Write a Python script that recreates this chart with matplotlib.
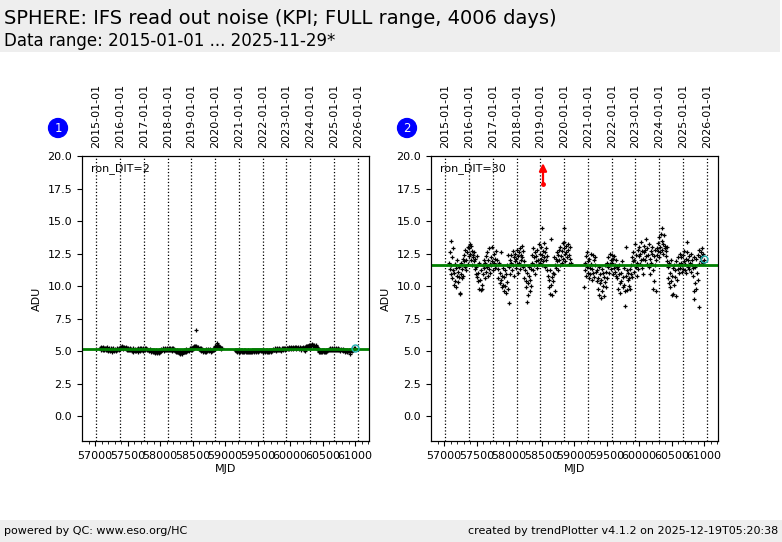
import matplotlib
matplotlib.use("Agg")
import matplotlib.pyplot as plt
from matplotlib.patches import Rectangle

# ---------------- data ----------------
mjd_1 = [
    57077, 57085, 57092, 57100, 57108, 57115, 57122, 57130, 57138, 57145,
    57153, 57160, 57168, 57175, 57183, 57190, 57198, 57205, 57213, 57220,
    57228, 57235, 57243, 57250, 57258, 57266, 57274, 57282, 57290, 57298,
    57306, 57314, 57322, 57330, 57338, 57346, 57354, 57362, 57370, 57378,
    57386, 57394, 57402, 57410, 57418, 57426, 57434, 57442, 57450, 57458,
    57466, 57474, 57482, 57490, 57498, 57506, 57514, 57522, 57530, 57538,
    57546, 57554, 57562, 57570, 57578, 57586, 57594, 57602, 57610, 57618,
    57626, 57634, 57642, 57650, 57658, 57666, 57674, 57682, 57690, 57698,
    57706, 57714, 57722, 57730, 57738, 57746, 57754, 57762, 57770, 57778,
    57786, 57794, 57802, 57810, 57830, 57838, 57846, 57854, 57862, 57870,
    57878, 57886, 57894, 57902, 57910, 57918, 57926, 57934, 57942, 57950,
    57958, 57966, 57974, 57982, 57990, 57998, 58006, 58014, 58022, 58030,
    58038, 58046, 58054, 58062, 58070, 58078, 58086, 58094, 58102, 58110,
    58118, 58126, 58134, 58142, 58150, 58158, 58166, 58174, 58182, 58190,
    58198, 58206, 58214, 58222, 58230, 58238, 58246, 58254, 58262, 58270,
    58278, 58286, 58294, 58302, 58310, 58318, 58326, 58334, 58342, 58350,
    58358, 58366, 58374, 58382, 58390, 58398, 58406, 58414, 58422, 58430,
    58438, 58446, 58454, 58462, 58470, 58478, 58486, 58494, 58502, 58510,
    58514, 58520, 58528, 58536, 58544, 58552, 58560, 58568, 58576, 58584,
    58592, 58600, 58608, 58616, 58624, 58632, 58640, 58648, 58656, 58664,
    58672, 58680, 58688, 58696, 58704, 58712, 58720, 58728, 58736, 58744,
    58752, 58760, 58768, 58776, 58784, 58792, 58800, 58808, 58816, 58824,
    58832, 58840, 58846, 58852, 58860, 58868, 58876, 58884, 58892, 58900,
    58908, 58916, 58924, 58932, 58940, 58948,
]
ron2_1 = [
    5.2, 5.3, 5.1, 5.25, 5.15, 5.2, 5.05, 5.3, 5.1, 5.2,
    5.15, 5.25, 5.05, 5.2, 5.1, 5.3, 5.0, 5.15, 5.2, 5.05,
    5.1, 5.0, 5.2, 5.05, 5.15, 4.95, 5.1, 5.2, 5.0, 5.1,
    5.05, 5.15, 5.0, 5.1, 5.2, 5.05, 5.15, 5.25, 5.1, 5.2,
    5.25, 5.3, 5.2, 5.35, 5.25, 5.3, 5.15, 5.3, 5.2, 5.25,
    5.2, 5.3, 5.15, 5.25, 5.1, 5.2, 5.05, 5.15, 5.1, 5.2,
    5.05, 5.15, 5.0, 5.1, 5.2, 4.95, 5.1, 5.05, 5.15, 5.0,
    5.1, 5.0, 5.15, 5.05, 5.2, 4.95, 5.1, 5.15, 5.0, 5.2,
    5.1, 5.2, 5.05, 5.15, 5.0, 5.2, 5.1, 5.25, 5.05, 5.15,
    5.2, 5.1, 5.15, 5.05, 5.1, 5.0, 5.15, 4.95, 5.05, 5.1,
    5.0, 4.9, 5.05, 4.95, 5.1, 4.85, 5.0, 4.9, 5.05, 4.85,
    4.95, 5.0, 4.9, 5.05, 4.85, 4.95, 5.1, 5.0, 5.15, 5.05,
    5.1, 5.2, 5.0, 5.15, 5.1, 5.2, 5.05, 5.15, 5.1, 5.2,
    5.15, 5.05, 5.2, 5.1, 5.25, 5.05, 5.15, 5.1, 5.2, 5.0,
    5.1, 5.2, 5.05, 5.15, 5.0, 5.1, 4.95, 5.05, 4.9, 5.0,
    4.9, 4.85, 4.95, 4.8, 5.0, 4.85, 4.9, 4.8, 5.0, 4.95,
    5.0, 4.9, 5.1, 4.95, 5.05, 5.15, 4.9, 5.0, 5.1, 5.05,
    5.1, 5.0, 5.15, 5.2, 5.05, 5.25, 5.1, 5.2, 5.3, 5.15,
    5.25, 5.35, 5.2, 5.4, 5.3, 6.6, 5.35, 5.2, 5.3, 5.25,
    5.3, 5.15, 5.25, 5.1, 5.2, 5.0, 5.15, 5.05, 4.95, 5.1,
    5.0, 5.1, 4.95, 5.05, 5.15, 4.95, 5.1, 5.0, 5.05, 5.15,
    5.0, 5.1, 5.05, 5.15, 4.95, 5.1, 5.0, 5.15, 5.05, 5.2,
    5.1, 5.25, 5.3, 5.4, 5.2, 5.35, 5.6, 5.3, 5.45, 5.25,
    5.35, 5.2, 5.3, 5.25, 5.15, 5.2,
]
ron30_1 = [
    11.8, 12.6, 11.3, 13.5, 10.9, 11.6, 12.2, 10.6, 11.2, 12.9,
    10.1, 11.0, 11.7, 10.4, 11.4, 9.9, 10.8, 12.0, 11.1, 10.3,
    10.7, 11.5, 9.5, 9.4, 10.9, 11.8, 10.6, 11.3, 12.1, 10.8,
    11.9, 12.4, 11.5, 12.8, 11.2, 12.0, 12.6, 13.0, 11.7, 12.3,
    12.9, 13.2, 12.5, 13.1, 12.0, 12.7, 11.6, 12.4, 12.2, 11.9,
    12.6, 11.3, 12.1, 10.9, 11.5, 10.7, 12.3, 11.0, 10.4, 11.8,
    9.8, 10.5, 9.7, 11.2, 10.1, 9.8, 11.6, 10.9, 12.0, 11.4,
    10.6, 11.8, 12.3, 11.1, 12.6, 11.5, 10.8, 12.0, 11.3, 12.9,
    11.7, 11.0, 12.2, 11.6, 13.0, 11.9, 11.2, 12.5, 11.8, 12.1,
    11.4, 12.7, 11.6, 12.0, 11.3, 10.6, 11.8, 10.2, 11.0, 10.5,
    12.6, 9.9, 10.8, 11.4, 10.1, 9.6, 10.7, 11.2, 10.0, 9.5,
    10.9, 11.6, 10.3, 12.4, 9.8, 8.7, 11.5, 12.0, 10.9, 11.8,
    12.4, 11.2, 12.7, 11.6, 12.2, 10.8, 11.9, 12.5, 11.4, 12.1,
    12.8, 11.7, 12.3, 11.0, 12.6, 11.8, 12.9, 11.3, 12.4, 12.0,
    13.1, 12.2, 11.5, 12.7, 11.9, 10.6, 11.2, 10.4, 9.9, 11.0,
    8.8, 10.2, 9.3, 10.8, 11.5, 9.6, 10.5, 11.3, 10.0, 11.8,
    12.4, 11.2, 12.9, 11.6, 12.2, 10.9, 12.6, 11.9, 12.3, 11.4,
    12.8, 12.0, 11.7, 13.2, 12.5, 11.8, 12.1, 13.0, 12.4, 11.6,
    14.5, 12.7, 11.9, 13.3, 12.2, 11.5, 12.6, 12.0, 12.9, 11.2,
    12.3, 10.8, 9.9, 10.5, 9.4, 11.2, 10.1, 13.6, 10.7, 9.3,
    11.0, 10.4, 12.2, 10.9, 11.6, 9.6, 12.1, 11.4, 12.6, 11.9,
    12.4, 11.2, 12.8, 12.0, 11.6, 13.0, 12.3, 11.8, 12.7, 13.3,
    12.1, 12.9, 14.5, 13.4, 12.5, 11.9, 13.1, 12.6, 12.2, 13.2,
    12.8, 11.7, 12.4, 13.0, 12.1, 11.8,
]

mjd_2 = [
    59154, 59162, 59170, 59178, 59186, 59194, 59202, 59210, 59218, 59226,
    59234, 59242, 59250, 59258, 59266, 59274, 59282, 59290, 59298, 59306,
    59314, 59322, 59330, 59338, 59346, 59354, 59362, 59370, 59378, 59386,
    59394, 59402, 59410, 59418, 59426, 59434, 59442, 59450, 59458, 59466,
    59474, 59482, 59490, 59498, 59506, 59514, 59522, 59530, 59538, 59546,
    59554, 59562, 59570, 59578, 59586, 59594, 59602, 59610, 59618, 59626,
    59634, 59642, 59650, 59658, 59666, 59674, 59682, 59690, 59698, 59706,
    59714, 59722, 59730, 59738, 59746, 59754, 59762, 59770, 59778, 59786,
    59794, 59802, 59810, 59818, 59826, 59834, 59842, 59850, 59858, 59866,
    59874, 59882, 59890, 59898, 59906, 59914, 59922, 59930, 59938, 59946,
    59954, 59962, 59970, 59978, 59986, 59994, 60002, 60010, 60018, 60026,
    60034, 60042, 60050, 60058, 60066, 60074, 60082, 60090, 60098, 60106,
    60114, 60122, 60130, 60138, 60146, 60154, 60162, 60170, 60178, 60186,
    60194, 60202, 60210, 60218, 60226, 60234, 60242, 60250, 60258, 60266,
    60274, 60282, 60290, 60298, 60306, 60314, 60322, 60330, 60338, 60346,
    60352, 60360, 60368, 60376, 60384, 60392, 60400, 60408, 60416, 60424,
    60432, 60440, 60448, 60456, 60464, 60472, 60480, 60488, 60496, 60504,
    60512, 60520, 60528, 60536, 60544, 60552, 60560, 60568, 60576, 60584,
    60592, 60600, 60608, 60616, 60624, 60632, 60640, 60648, 60656, 60664,
    60672, 60680, 60688, 60696, 60704, 60712, 60720, 60728, 60736, 60744,
    60752, 60760, 60768, 60776, 60784, 60792, 60800, 60808, 60816, 60824,
    60832, 60840, 60846, 60852, 60860, 60868, 60876, 60884, 60892, 60900,
    60908, 60916, 60922, 60930, 60938, 60946, 60954, 60962, 60970, 60978,
    60986, 60994,
]
ron2_2 = [
    5.05, 5.0, 5.1, 4.95, 5.05, 5.0, 5.1, 4.95, 5.05, 5.0,
    4.95, 5.05, 5.0, 4.9, 5.05, 4.95, 5.0, 5.1, 4.9, 5.0,
    5.05, 4.95, 5.0, 4.9, 5.05, 4.95, 5.0, 4.9, 5.0, 4.95,
    5.0, 4.9, 5.05, 4.95, 5.0, 5.05, 4.95, 5.1, 5.0, 5.05,
    4.95, 5.05, 5.0, 5.1, 4.95, 5.05, 5.0, 5.1, 5.05, 5.0,
    5.1, 5.0, 5.05, 4.95, 5.1, 5.0, 5.05, 4.95, 5.0, 5.1,
    5.0, 4.95, 5.05, 5.0, 4.9, 5.05, 4.95, 5.0, 5.1, 4.95,
    5.05, 5.1, 5.0, 5.15, 5.05, 5.1, 5.2, 5.05, 5.15, 5.0,
    5.1, 5.2, 5.05, 5.15, 5.1, 5.2, 5.05, 5.15, 5.1, 5.0,
    5.15, 5.2, 5.1, 5.25, 5.15, 5.2, 5.1, 5.25, 5.15, 5.2,
    5.25, 5.15, 5.2, 5.3, 5.15, 5.25, 5.2, 5.3, 5.15, 5.25,
    5.2, 5.3, 5.15, 5.25, 5.2, 5.3, 5.25, 5.15, 5.3, 5.2,
    5.25, 5.2, 5.3, 5.15, 5.25, 5.3, 5.2, 5.1, 5.25, 5.2,
    5.3, 5.2, 5.25, 5.1, 5.0, 5.3, 5.35, 5.25, 5.4, 5.3,
    5.4, 5.35, 5.45, 5.3, 5.5, 5.4, 5.45, 5.35, 5.55, 5.4,
    5.45, 5.35, 5.5, 5.4, 5.3, 5.45, 5.35, 5.25, 5.3, 5.2,
    5.1, 5.0, 4.95, 5.05, 4.9, 5.0, 4.95, 5.1, 4.9, 5.05,
    5.0, 4.95, 5.05, 4.9, 5.0, 5.1, 4.95, 5.05, 5.0, 5.1,
    5.05, 5.15, 5.1, 5.2, 5.05, 5.15, 5.1, 5.2, 5.05, 5.15,
    5.1, 5.2, 5.05, 5.15, 5.1, 5.2, 5.05, 5.15, 5.1, 5.2,
    5.05, 5.15, 5.0, 5.1, 5.15, 5.05, 5.1, 5.0, 5.15, 5.05,
    5.1, 5.0, 5.05, 4.95, 5.1, 5.0, 5.05, 4.9, 5.0, 5.1,
    5.0, 4.95, 4.8, 5.05, 5.1, 5.0, 5.15, 5.05, 5.1, 5.2,
    5.15, 5.2,
]
ron30_2 = [
    9.9, 11.8, 11.2, 12.3, 10.8, 11.5, 12.6, 11.0, 11.9, 10.6,
    12.1, 11.4, 10.9, 12.5, 11.7, 10.5, 11.3, 12.4, 11.0, 12.0,
    10.7, 11.6, 12.2, 11.1, 10.4, 11.2, 9.8, 10.6, 11.5, 9.3,
    10.2, 10.9, 9.1, 10.5, 11.3, 9.6, 10.0, 11.0, 9.2, 10.7,
    11.6, 10.3, 9.9, 11.1, 10.6, 11.8, 11.5, 12.2, 11.0, 12.5,
    11.7, 12.0, 11.3, 12.4, 11.8, 10.9, 12.1, 11.4, 12.3, 11.6,
    11.1, 12.0, 10.8, 11.5, 10.6, 11.3, 9.8, 10.9, 11.6, 10.2,
    9.5, 11.0, 10.4, 11.9, 9.9, 10.7, 11.4, 10.1, 9.6, 8.5,
    13.0, 10.8, 11.2, 9.7, 10.5, 11.0, 10.0, 10.6, 9.8, 11.3,
    10.9, 11.6, 12.2, 10.7, 11.9, 12.6, 11.1, 12.0, 13.2, 11.5,
    12.4, 10.8, 11.8, 12.8, 11.3, 12.3, 13.0, 11.7, 12.5, 12.0,
    13.4, 11.4, 12.7, 12.1, 10.9, 12.6, 13.1, 12.0, 12.8, 13.6,
    12.3, 11.7, 12.9, 12.4, 11.5, 13.2, 12.1, 10.9, 12.7, 11.8,
    12.5, 13.0, 11.2, 9.8, 10.4, 12.3, 12.8, 11.6, 9.6, 12.0,
    12.9, 12.4, 13.3, 12.7, 13.8, 12.2, 13.0, 12.6, 14.0, 14.5,
    13.5, 12.8, 13.2, 12.5, 13.9, 12.9, 13.1, 12.3, 12.7, 13.0,
    11.9, 11.5, 10.6, 10.2, 11.8, 9.9, 11.0, 10.4, 12.0, 9.3,
    10.8, 11.4, 9.4, 10.1, 11.6, 10.7, 11.2, 9.2, 11.9, 10.5,
    11.3, 12.2, 11.0, 11.7, 12.5, 11.4, 11.8, 12.2, 11.1, 11.6,
    12.4, 11.3, 11.9, 12.7, 11.2, 11.7, 12.1, 11.0, 12.6, 13.4,
    11.5, 12.0, 11.3, 12.3, 11.8, 11.1, 12.5, 11.6, 12.0, 11.4,
    10.8, 12.2, 9.0, 9.6, 11.5, 10.2, 12.1, 9.8, 11.0, 10.5,
    12.4, 11.7, 8.4, 12.8, 12.2, 11.9, 12.6, 12.9, 12.3, 11.8,
    12.5, 12.0,
]

latest_mjd = 61005
latest_ron2 = 5.2
latest_ron30 = 12.1

median_ron2 = 5.15
median_ron30 = 11.6

outlier_mjd_30 = [58523]   # value above the plotted range

year_labels = ["2015-01-01", "2016-01-01", "2017-01-01", "2018-01-01",
               "2019-01-01", "2020-01-01", "2021-01-01", "2022-01-01",
               "2023-01-01", "2024-01-01", "2025-01-01", "2026-01-01"]
year_mjd = [57023, 57388, 57754, 58119, 58484, 58849,
            59215, 59580, 59945, 60310, 60676, 61041]

panel_labels = ["ron_DIT=2", "ron_DIT=30"]
panel_numbers = ["1", "2"]

title = "SPHERE: IFS read out noise (KPI; FULL range, 4006 days)"
subtitle = "Data range: 2015-01-01 ... 2025-11-29*"
footer_left = "powered by QC: www.eso.org/HC"
footer_right = "created by trendPlotter v4.1.2 on 2025-12-19T05:20:38"

# ---------------- figure ----------------
W, H = 782, 542
fig = plt.figure(figsize=(W / 100, H / 100), dpi=100)
plt.rcParams['font.family'] = ['DejaVu Sans']

# header and footer bands
fig.patches.append(Rectangle((0, 1 - 52 / H), 780 / W, 52 / H, transform=fig.transFigure,
                             facecolor='#eeeeee', edgecolor='none', zorder=0))
fig.patches.append(Rectangle((0, 0), 1, 22 / H, transform=fig.transFigure,
                             facecolor='#eeeeee', edgecolor='none', zorder=0))
fig.text(4 / W, 1 - 18 / H, title, fontsize=14, va='center', ha='left')
fig.text(4 / W, 1 - 41 / H, subtitle, fontsize=12, va='center', ha='left')
fig.text(4 / W, 11 / H, footer_left, fontsize=8, va='center', ha='left')
fig.text(778 / W, 11 / H, footer_right, fontsize=8, va='center', ha='right')

series = [
    (mjd_1 + mjd_2, ron2_1 + ron2_2, latest_ron2, median_ron2, []),
    (mjd_1 + mjd_2, ron30_1 + ron30_2, latest_ron30, median_ron30, outlier_mjd_30),
]
lefts = [82, 431]
ax_w = 287
ax_top, ax_bot = 156, 441

for i, (xs, ys, latest, med, outl) in enumerate(series):
    ax = fig.add_axes([lefts[i] / W, 1 - ax_bot / H, ax_w / W, (ax_bot - ax_top) / H])
    ax.set_xlim(56800, 61215)
    ax.set_ylim(-1.92, 20)
    for ym in year_mjd:
        ax.axvline(ym, color='black', linestyle=':', lw=0.9, zorder=1)
    ax.plot(xs, ys, linestyle='none', marker='+', ms=2.6, mec='black',
            mew=0.9, zorder=3)
    ax.axhline(med, color='green', lw=2, zorder=4)
    ax.plot([latest_mjd], [latest], linestyle='none', marker='o', ms=5, mfc='none',
            mec='#20b0b0', mew=1.0, zorder=5)
    for om in outl:
        ax.annotate('', xy=(om, 19.45), xytext=(om, 17.8),
                    arrowprops=dict(arrowstyle='-|>', color='red', lw=1.6,
                                    mutation_scale=11, shrinkA=0, shrinkB=0), zorder=6)
        ax.plot([om], [17.85], marker='o', ms=2.5, color='red', zorder=6)
    ax.set_xticks(range(57000, 61001, 500))
    ax.set_xticks(range(56900, 61201, 100), minor=True)
    ax.set_yticks([0, 2.5, 5, 7.5, 10, 12.5, 15, 17.5, 20])
    ax.yaxis.set_major_formatter(matplotlib.ticker.FormatStrFormatter('%.1f'))
    ax.tick_params(axis='both', labelsize=8, length=3.5, width=0.8)
    ax.tick_params(axis='x', which='minor', length=2, width=0.6)
    ax.set_xlabel('MJD', fontsize=8, labelpad=2)
    ax.set_ylabel('ADU', fontsize=8, labelpad=4)
    ax.text(0.03, 0.975, panel_labels[i], transform=ax.transAxes, fontsize=8,
            va='top', ha='left')
    top = ax.twiny()
    top.set_xlim(ax.get_xlim())
    top.set_xticks(year_mjd)
    top.set_xticklabels(year_labels, rotation=90, fontsize=8)
    top.tick_params(axis='x', length=0, pad=6)
    fig.text((lefts[i] - 24) / W, 1 - 128 / H, panel_numbers[i], color='white',
             fontsize=8.5, ha='center', va='center',
             bbox=dict(boxstyle='circle,pad=0.25', fc='blue', ec='blue'))

fig.savefig('out.png', dpi=100)
